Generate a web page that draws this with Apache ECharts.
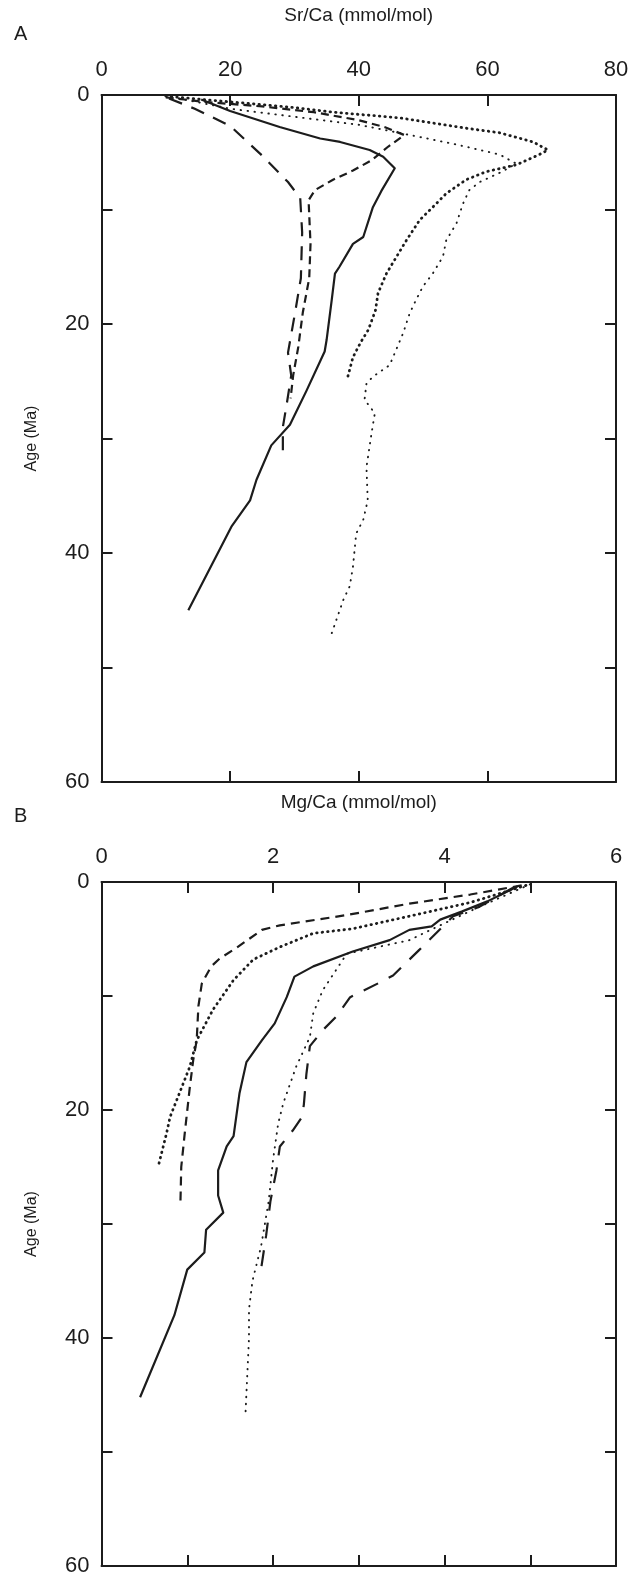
<!DOCTYPE html>
<html>
<head>
<meta charset="utf-8">
<script src="https://cdn.jsdelivr.net/npm/echarts@6/dist/echarts.min.js"></script>
<style>
html,body{margin:0;padding:0;background:#fff;}
#chart{width:635px;height:1577px;}
</style>
</head>
<body>
<div id="chart"></div>
<script>
// ---- Panel A: Sr/Ca (mmol/mol) vs Age (Ma); pairs are [value, age]
const srSolid = [[15.5,0.4],[20,1.4],[27.7,2.8],[34,3.8],[37.1,4.1],[41.7,4.8],[43.8,5.4],[45.6,6.4],[43.5,8.4],[42.2,9.8],[40.7,12.4],[39.1,13.0],[37,15.0],[36.3,15.6],[35.8,17.9],[35,21.4],[34.7,22.4],[31.9,25.8],[29.3,28.8],[26.4,30.6],[24.1,33.6],[23.1,35.4],[20.2,37.7],[13.5,45.0]];
const srLongDash = [[10.5,0.3],[14.5,1.2],[20,2.7],[25,5.3],[29,7.6],[30.9,9.0],[31.2,12],[31,16],[30.1,19],[29,22.5],[29.5,24.5],[28.8,27],[28.2,29],[28.2,31.4]];
const srDash = [[10,0.2],[16,0.6],[25,1.0],[33,1.5],[40,2.2],[44,2.8],[47.1,3.5],[44.6,4.5],[42,5.7],[39.1,6.6],[36,7.4],[33.2,8.3],[32.2,9.2],[32.5,13],[32.3,16],[31.3,19],[30.6,22],[29.8,24.5],[29.4,26.5]];
const srDenseDot = [[10,0.1],[20,0.6],[30,1.1],[36,1.5],[46.4,2.0],[56.7,2.9],[61.9,3.3],[67.1,4.1],[69.4,4.8],[68.1,5.2],[64.5,6.1],[59.8,6.7],[56.7,7.4],[53.6,8.6],[51.5,9.8],[49.5,10.9],[47.4,12.7],[45.9,14.1],[44.3,15.6],[43.0,17.3],[42.6,18.8],[41.5,20.5],[40.3,21.6],[39.1,22.9],[38.3,24.6]];
const srSparseDot = [[12,0.3],[20,1.2],[30,1.9],[40,2.6],[48,3.5],[55,4.3],[61.9,5.2],[64.5,6.0],[61.9,6.8],[58.8,7.6],[57.2,8.3],[56.2,9.5],[55.2,11.2],[53.6,12.7],[53.1,14.1],[51.5,15.6],[50,16.7],[48.9,17.9],[47.9,19.1],[46.9,20.8],[44.8,23.6],[42.2,24.6],[41.2,25.2],[40.9,26.6],[42.5,27.8],[42,29.5],[41.2,32.5],[41.4,35.4],[40.7,37.1],[39.6,38.3],[39.1,41.2],[38.6,42.9],[37.6,44.1],[35.8,47.0]];

// ---- Panel B: Mg/Ca (mmol/mol) vs Age (Ma)
const mgSolid = [[4.85,0.4],[4.5,1.7],[4.2,2.6],[3.95,3.3],[3.85,3.9],[3.59,4.2],[3.36,5.1],[2.93,6.1],[2.47,7.4],[2.25,8.3],[2.16,10.1],[2.02,12.4],[1.87,13.9],[1.69,15.8],[1.61,18.5],[1.54,22.3],[1.46,23.2],[1.36,25.3],[1.36,27.5],[1.42,29],[1.22,30.5],[1.2,32.5],[1.0,34],[0.85,38],[0.45,45.2]];
const mgLongDash = [[4.8,0.5],[4.4,2.2],[4.1,3.0],[3.7,6.0],[3.4,8.2],[3.25,8.8],[2.9,10.1],[2.74,11.8],[2.58,13],[2.43,14.4],[2.39,16.8],[2.36,19.5],[2.34,20.6],[2.23,21.8],[2.08,23.2],[2.04,25.3],[1.97,28],[1.92,31],[1.86,34]];
const mgDash = [[4.9,0.3],[4.3,1.1],[3.59,1.9],[2.86,2.9],[2.08,3.8],[1.87,4.2],[1.57,5.8],[1.38,6.7],[1.28,7.4],[1.17,8.9],[1.13,10.9],[1.11,13.9],[1.07,15.6],[1.03,18.0],[0.97,22.1],[0.93,25.0],[0.92,28.3]];
const mgDenseDot = [[4.95,0.3],[4.3,1.8],[3.59,3.0],[2.93,4.1],[2.47,4.5],[2.08,5.7],[1.77,6.8],[1.54,8.6],[1.30,11.2],[1.11,13.9],[1.03,16.2],[0.91,18.5],[0.80,20.6],[0.76,22.0],[0.66,25.0]];
const mgSparseDot = [[5.0,0.2],[4.4,2.2],[3.95,3.8],[3.59,5.1],[2.86,6.3],[2.58,9.5],[2.47,11.5],[2.43,13.6],[2.27,16.2],[2.12,19.4],[2.06,21.2],[2.0,24.4],[1.95,28],[1.86,32],[1.76,35],[1.72,37.5],[1.72,40],[1.68,46.5]];

// tick label sets
const srTicks = [0,20,40,60,80];
const mgTicks = [0,2,4,6];
const ageTicks = [0,20,40,60];

const INK = '#1c1c1c';
const FONT = 'Liberation Sans';
const chart = echarts.init(document.getElementById('chart'));

function xAx(grid, pos, max, interval, labels, name){
  return {
    type:'value', gridIndex:grid, position:pos, min:0, max:max, interval:interval,
    axisLine:{show:true, onZero:false, lineStyle:{color:INK,width:2}},
    axisTick:{show:true, inside:true, length:11, lineStyle:{color:INK,width:2}},
    splitLine:{show:false},
    axisLabel:{show:!!labels, color:INK, fontFamily:FONT, fontSize:22, margin:14,
      formatter:v=> (labels && labels.indexOf(v)>=0) ? String(v) : ''},
    name:name||'', nameLocation:'middle', nameGap:70,
    nameTextStyle:{color:INK, fontFamily:FONT, fontSize:19}
  };
}
function yAx(grid, pos, labels){
  return {
    type:'value', gridIndex:grid, position:pos, min:0, max:60, interval:10, inverse:true,
    axisLine:{show:true, onZero:false, lineStyle:{color:INK,width:2}},
    axisTick:{show:true, inside:true, length:11, lineStyle:{color:INK,width:2}},
    splitLine:{show:false},
    axisLabel:{show:!!labels, color:INK, fontFamily:FONT, fontSize:22, margin:12,
      formatter:v=> (labels && labels.indexOf(v)>=0) ? String(v) : ''},
    name: labels ? 'Age (Ma)' : '', nameLocation:'middle', nameGap:62, nameRotate:90,
    nameTextStyle:{color:INK, fontFamily:FONT, fontSize:16}
  };
}
function ser(data, xi, yi, width, type, cap){
  return {type:'line', data:data, xAxisIndex:xi, yAxisIndex:yi, showSymbol:false, symbol:'none',
    animation:false, silent:true,
    lineStyle:{color:INK, width:width, type:type, cap:cap||'butt', join:'round'}};
}
const DENSE = [0.5,5];
const SPARSE = [0.5,6.5];
chart.setOption({
  animation:false,
  grid:[
    {left:101.5, top:95, width:514.5, height:687},
    {left:101.5, top:882, width:514.5, height:684}
  ],
  xAxis:[
    xAx(0,'top',80,20,srTicks,'Sr/Ca (mmol/mol)'),
    xAx(0,'bottom',80,20,null),
    xAx(1,'top',6,1,mgTicks,'Mg/Ca (mmol/mol)'),
    xAx(1,'bottom',6,1,null)
  ],
  yAxis:[
    yAx(0,'left',ageTicks), yAx(0,'right',null),
    yAx(1,'left',ageTicks), yAx(1,'right',null)
  ],
  graphic:[
    {type:'text', left:14, top:24, style:{text:'A', fontFamily:FONT, fontSize:20, fill:INK}},
    {type:'text', left:14, top:806, style:{text:'B', fontFamily:FONT, fontSize:20, fill:INK}}
  ],
  series:[
    ser(srSolid,0,0,2.2,'solid'),
    ser(srLongDash,0,0,2.2,[14,10]),
    ser(srDash,0,0,2.2,[8,5]),
    ser(srDenseDot,0,0,2.8,DENSE,'round'),
    ser(srSparseDot,0,0,1.9,SPARSE,'round'),
    ser(mgSolid,2,2,2.2,'solid'),
    ser(mgLongDash,2,2,2.2,[16,12]),
    ser(mgDash,2,2,2.2,[9,6]),
    ser(mgDenseDot,2,2,2.8,DENSE,'round'),
    ser(mgSparseDot,2,2,1.9,SPARSE,'round')
  ]
});
</script>
</body>
</html>
